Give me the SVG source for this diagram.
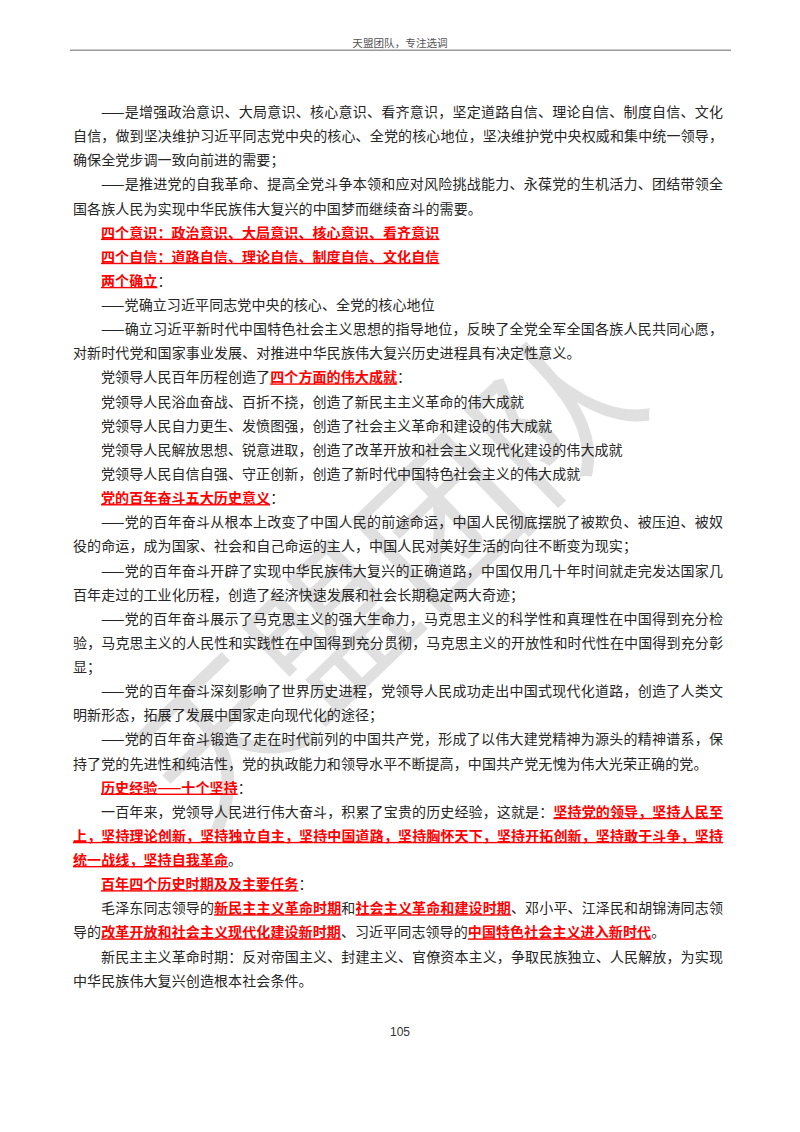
<svg xmlns="http://www.w3.org/2000/svg" width="800" height="1132" viewBox="0 0 800 1132">
<style>
text{font-family:"Noto Sans CJK SC","Noto Sans",sans-serif;}
.t{font-size:14px;fill:#262626;letter-spacing:.1px;}
.r{fill:#fe0000;font-weight:700;text-decoration:underline;text-decoration-skip-ink:none;}
.wm{font-size:155px;fill:#e0e0e0;}
</style>
<rect width="800" height="1132" fill="#fff"/>
<text class="wm" transform="translate(427 618) rotate(-44)" text-anchor="middle">天盟团队</text>
<text x="400" y="47" text-anchor="middle" style="font-size:10.6px;fill:#555">天盟团队，专注选调</text>
<rect x="70" y="49.5" width="661" height="1.5" fill="#9a9a9a"/>
<g class="t">
<text class="t" x="101" y="117" textLength="622">——是增强政治意识、大局意识、核心意识、看齐意识，坚定道路自信、理论自信、制度自信、文化</text>
<text class="t" x="73" y="141.1" textLength="650">自信，做到坚决维护习近平同志党中央的核心、全党的核心地位，坚决维护党中央权威和集中统一领导，</text>
<text class="t" x="73" y="165.3">确保全党步调一致向前进的需要；</text>
<text class="t" x="101" y="189.4" textLength="622">——是推进党的自我革命、提高全党斗争本领和应对风险挑战能力、永葆党的生机活力、团结带领全</text>
<text class="t" x="73" y="213.5">国各族人民为实现中华民族伟大复兴的中国梦而继续奋斗的需要。</text>
<text class="t r" x="101" y="237.7">四个意识：政治意识、大局意识、核心意识、看齐意识</text>
<text class="t r" x="101" y="261.8">四个自信：道路自信、理论自信、制度自信、文化自信</text>
<text class="t" x="101" y="285.9"><tspan class="r">两个确立</tspan>：</text>
<text class="t" x="101" y="310">——党确立习近平同志党中央的核心、全党的核心地位</text>
<text class="t" x="101" y="334.2" textLength="622">——确立习近平新时代中国特色社会主义思想的指导地位，反映了全党全军全国各族人民共同心愿，</text>
<text class="t" x="73" y="358.3">对新时代党和国家事业发展、对推进中华民族伟大复兴历史进程具有决定性意义。</text>
<text class="t" x="101" y="382.4">党领导人民百年历程创造了<tspan class="r">四个方面的伟大成就</tspan>：</text>
<text class="t" x="101" y="406.6">党领导人民浴血奋战、百折不挠，创造了新民主主义革命的伟大成就</text>
<text class="t" x="101" y="430.7">党领导人民自力更生、发愤图强，创造了社会主义革命和建设的伟大成就</text>
<text class="t" x="101" y="454.8">党领导人民解放思想、锐意进取，创造了改革开放和社会主义现代化建设的伟大成就</text>
<text class="t" x="101" y="479">党领导人民自信自强、守正创新，创造了新时代中国特色社会主义的伟大成就</text>
<text class="t" x="101" y="503.1"><tspan class="r">党的百年奋斗五大历史意义</tspan>：</text>
<text class="t" x="101" y="527.2" textLength="622">——党的百年奋斗从根本上改变了中国人民的前途命运，中国人民彻底摆脱了被欺负、被压迫、被奴</text>
<text class="t" x="73" y="551.3">役的命运，成为国家、社会和自己命运的主人，中国人民对美好生活的向往不断变为现实；</text>
<text class="t" x="101" y="575.5" textLength="622">——党的百年奋斗开辟了实现中华民族伟大复兴的正确道路，中国仅用几十年时间就走完发达国家几</text>
<text class="t" x="73" y="599.6">百年走过的工业化历程，创造了经济快速发展和社会长期稳定两大奇迹；</text>
<text class="t" x="101" y="623.7" textLength="622">——党的百年奋斗展示了马克思主义的强大生命力，马克思主义的科学性和真理性在中国得到充分检</text>
<text class="t" x="73" y="647.9" textLength="650">验，马克思主义的人民性和实践性在中国得到充分贯彻，马克思主义的开放性和时代性在中国得到充分彰</text>
<text class="t" x="73" y="672">显；</text>
<text class="t" x="101" y="696.1" textLength="622">——党的百年奋斗深刻影响了世界历史进程，党领导人民成功走出中国式现代化道路，创造了人类文</text>
<text class="t" x="73" y="720.3">明新形态，拓展了发展中国家走向现代化的途径；</text>
<text class="t" x="101" y="744.4" textLength="622">——党的百年奋斗锻造了走在时代前列的中国共产党，形成了以伟大建党精神为源头的精神谱系，保</text>
<text class="t" x="73" y="768.5">持了党的先进性和纯洁性，党的执政能力和领导水平不断提高，中国共产党无愧为伟大光荣正确的党。</text>
<text class="t" x="101" y="792.6"><tspan class="r">历史经验——十个坚持</tspan>：</text>
<text class="t" x="101" y="816.8" textLength="622">一百年来，党领导人民进行伟大奋斗，积累了宝贵的历史经验，这就是：<tspan class="r">坚持党的领导，坚持人民至</tspan></text>
<text class="t r" x="73" y="840.9" textLength="650">上，坚持理论创新，坚持独立自主，坚持中国道路，坚持胸怀天下，坚持开拓创新，坚持敢于斗争，坚持</text>
<text class="t" x="73" y="865"><tspan class="r">统一战线，坚持自我革命</tspan>。</text>
<text class="t" x="101" y="889.2"><tspan class="r">百年四个历史时期及及主要任务</tspan>：</text>
<text class="t" x="101" y="913.3" textLength="622">毛泽东同志领导的<tspan class="r">新民主主义革命时期</tspan>和<tspan class="r">社会主义革命和建设时期</tspan>、邓小平、江泽民和胡锦涛同志领</text>
<text class="t" x="73" y="937.4">导的<tspan class="r">改革开放和社会主义现代化建设新时期</tspan>、习近平同志领导的<tspan class="r">中国特色社会主义进入新时代</tspan>。</text>
<text class="t" x="101" y="961.6" textLength="622">新民主主义革命时期：反对帝国主义、封建主义、官僚资本主义，争取民族独立、人民解放，为实现</text>
<text class="t" x="73" y="985.7">中华民族伟大复兴创造根本社会条件。</text>
</g>
<text x="400" y="1035.5" text-anchor="middle" style="font-family:'Liberation Sans',Arial,sans-serif;font-size:12px;fill:#333">105</text>
</svg>
